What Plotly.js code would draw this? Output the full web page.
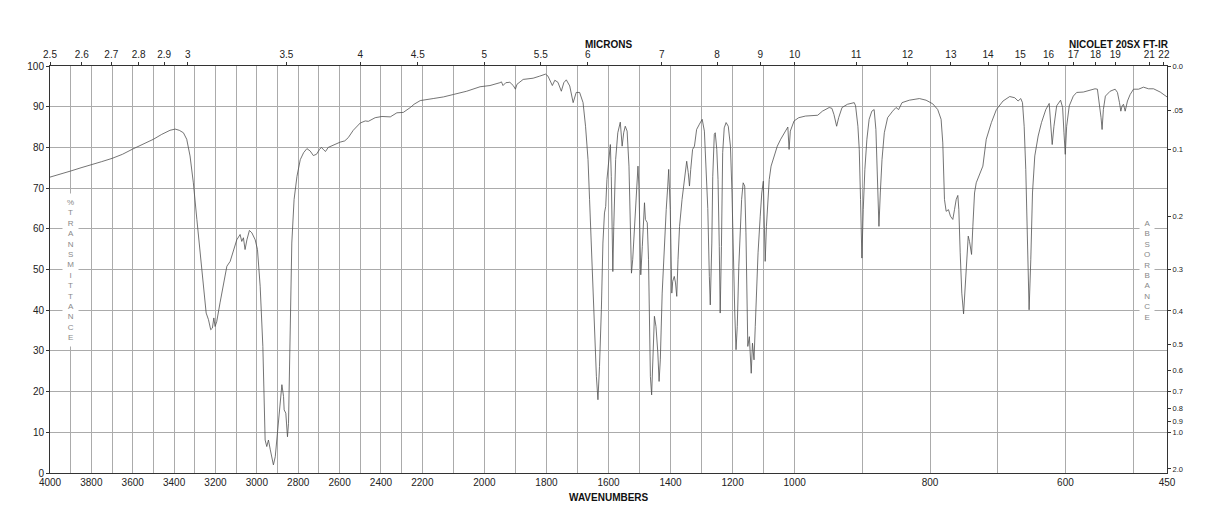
<!DOCTYPE html>
<html>
<head>
<meta charset="utf-8">
<script src="https://cdn.plot.ly/plotly-3.0.1.min.js"></script>
<style>html,body{margin:0;padding:0;background:#fff;}#chart{width:1218px;height:528px;}</style>
</head>
<body>
<div id="chart"></div>
<script>
// Wavenumbers (cm-1) and % transmittance
const wavenumbers = [4000,3950,3900,3850,3800,3750,3700,3650,3600,3550,3500,3460,3420,3395,3375,3355,3339,3323,3307,3290,3274,3258,3245,3234,3223,3215,3208,3202,3194,3178,3162,3145,3129,3113,3097,3081,3073,3065,3057,3048,3036,3024,3008,2997,2984,2971,2965,2960,2952,2944,2935,2927,2920,2911,2903,2895,2887,2879,2871,2868,2860,2852,2847,2839,2831,2820,2806,2790,2774,2758,2742,2727,2712,2697,2688,2677,2668,2655,2630,2597,2575,2558,2534,2500,2476,2461,2428,2395,2355,2323,2292,2271,2258,2240,2210,2165,2132,2100,2057,2014,1982,1950,1945,1940,1931,1918,1907,1900,1895,1875,1843,1822,1803,1795,1787,1781,1773,1763,1752,1744,1736,1725,1714,1704,1693,1682,1674,1666,1661,1655,1650,1645,1639,1634,1629,1623,1618,1613,1609,1605,1599,1594,1591,1588,1586,1583,1577,1570,1562,1556,1551,1546,1540,1534,1530,1526,1522,1516,1511,1505,1502,1499,1496,1491,1487,1484,1481,1475,1471,1468,1465,1461,1457,1452,1447,1441,1437,1433,1427,1420,1414,1409,1406,1401,1398,1396,1393,1388,1384,1380,1376,1371,1363,1355,1348,1343,1339,1335,1329,1323,1320,1316,1307,1298,1291,1286,1280,1275,1272,1267,1264,1259,1256,1251,1247,1243,1240,1236,1232,1227,1221,1214,1207,1202,1198,1193,1189,1185,1180,1176,1171,1166,1161,1157,1154,1151,1146,1143,1140,1136,1131,1127,1123,1118,1111,1106,1101,1098,1095,1091,1086,1082,1076,1066,1056,1045,1031,1022,1018,1014,1002,994,984,966,959,949,945,942,938,935,930,922,912,910,906.6,904.6,902.7,900.7,898.7,896.3,893.3,890,886,882.6,880,877.6,875.5,873.5,871,867.6,862.7,855.3,850.3,846.4,841.4,830.6,815.8,805.9,796,788.7,783.7,781.2,778.7,776.2,772.8,769.9,766.4,763.9,761.4,759,757.5,755.5,753.1,750.5,748,746,743.6,741.7,738.7,736.8,734.3,731.8,726.9,722,717,709.4,702,692.2,682.3,674.9,670,666,663.5,661,658.6,656,653.7,651.2,648.7,645.3,640.3,635.4,629,624,622,619.6,617,613,607.2,604.2,602.2,600.3,598.2,594.4,588.4,583.4,573.6,563.7,556.3,552.8,549.9,547.4,545.9,544,541,534,526.6,523.2,520.2,518.2,516.3,514.3,511.8,508.4,504.4,499.5,492.1,484.7,477.3,469.9,460,452.6,450];
const transmittance = [72.7,73.4,74.2,75.0,75.7,76.5,77.3,78.3,79.6,80.8,82.0,83.2,84.2,84.5,84.2,83.6,82.0,77.9,71.3,62.3,54.1,45.9,39.3,37.7,35.2,35.6,38.1,36.0,37.2,41.8,46.7,50.8,52.0,54.9,57.3,58.6,56.9,57.8,54.9,57.3,59.6,59.0,57.3,54.9,45.9,31.1,19.6,8.1,6.5,8.1,5.7,3.2,2.0,4.0,8.9,13.0,18.0,21.7,18.8,15.5,14.7,8.9,12.2,36.0,56.5,67.2,72.9,77.0,78.7,79.7,79.1,78.0,78.3,79.5,80.0,79.4,79.0,80.0,80.6,81.3,81.6,82.4,84.2,86.0,86.5,86.4,87.3,87.6,87.5,88.5,88.6,89.3,89.8,90.6,91.5,92.0,92.4,93.0,93.8,94.9,95.2,95.9,96.1,95.2,95.9,96.0,95.2,94.3,95.5,96.7,97.0,97.5,98.0,97.5,96.3,95.2,96.5,96.0,93.8,95.9,96.6,95.1,91.0,93.5,93.5,91.0,85.2,77.0,67.2,55.7,44.2,33.5,23.7,18.0,26.2,40.1,56.5,63.9,65.5,72.1,77.0,80.7,72.9,59.0,49.5,60.6,77.0,83.6,86.2,80.3,83.6,85.2,84.0,75.4,60.6,49.1,52.4,60.6,68.8,75.4,70.5,56.5,48.7,55.7,64.7,66.4,62.3,61.5,52.4,36.0,23.7,19.2,27.8,38.5,36.0,29.5,22.5,27.8,44.2,56.5,64.7,70.5,74.6,64.7,52.4,44.2,47.1,48.3,46.7,43.4,52.4,60.6,67.2,72.9,76.6,73.8,70.5,74.6,79.5,80.3,82.0,84.4,85.7,86.9,84.0,76.0,65.0,48.3,41.3,56.5,72.9,83.2,83.6,79.5,72.1,55.7,39.3,55.7,78.7,84.8,86.1,85.2,80.3,68.8,52.4,39.3,30.3,36.0,50.8,60.6,67.2,71.3,70.5,59.0,44.2,31.1,33.5,29.5,24.5,31.9,27.8,36.0,45.9,54.1,63.1,68.8,71.7,62.3,52.0,60.6,67.2,72.1,75.4,77.9,80.3,82.0,84.0,85.0,79.5,84.0,86.5,87.3,87.7,87.9,88.9,89.8,89.6,88.1,85.2,87.3,89.8,90.6,91.0,90.2,85.2,79.5,67.2,52.8,64.7,74.6,82.0,86.9,88.9,89.3,84.4,71.3,60.6,68.8,77.0,83.6,87.3,88.9,89.8,89.3,91.0,91.6,92.0,91.6,90.7,89.3,86.9,81.1,67.2,64.3,64.7,63.1,62.3,64.7,67.2,68.2,64.7,54.1,44.2,39.1,45.9,52.4,58.2,56.9,53.7,60.6,68.8,71.3,73.3,75.4,82.0,86.1,89.3,91.4,92.5,92.2,91.4,92.0,91.0,85.2,74.6,56.5,40.1,52.4,68.8,77.9,82.8,86.1,89.3,90.8,86.9,80.7,85.2,90.2,91.6,89.8,83.6,78.3,85.2,90.2,92.6,93.5,93.6,94.0,94.4,94.3,91.0,87.3,84.4,89.3,92.6,93.8,94.3,93.5,91.0,88.9,90.2,90.6,88.9,91.4,93.0,94.3,94.3,94.8,94.4,94.4,93.6,92.6,92.4];

// Axis tick labels
const wnGridValues = [4000,3900,3800,3700,3600,3500,3400,3300,3200,3100,3000,2900,2800,2700,2600,2500,2400,2300,2200,2100,2000,1900,1800,1700,1600,1500,1400,1300,1200,1100,1000,900,800,700,600,500,450];
const wnLabelled = [4000,3800,3600,3400,3200,3000,2800,2600,2400,2200,2000,1800,1600,1400,1200,1000,800,600,450];
const micronLabels = [2.5,2.6,2.7,2.8,2.9,3,3.5,4,4.5,5,5.5,6,7,8,9,10,11,12,13,14,15,16,17,18,19,21,22];
const absorbanceLabels = ['0.0','.05','0.1','0.2','0.3','0.4','0.5','0.6','0.7','0.8','0.9','1.0','2.0'];
const transmittanceTicks = [0,10,20,30,40,50,60,70,80,90,100];

// Chart's piecewise-linear wavenumber scale (three equal-width segments)
function u(w){
  if (w >= 2200) return (4000 - w) / 1800;
  if (w >= 1000) return 1 + (2200 - w) / 1200;
  return 2 + (1000 - w) / 550;
}

const FONT = '"Liberation Sans", Arial, Helvetica, sans-serif';
const xs = wavenumbers.map(u);

const traces = [
  {x: xs, y: transmittance, type: 'scatter', mode: 'lines',
   line: {color: '#505050', width: 0.8}, hoverinfo: 'skip', showlegend: false},
  {x: xs, y: transmittance, type: 'scatter', mode: 'lines', xaxis: 'x2', yaxis: 'y2',
   line: {color: 'rgba(0,0,0,0)', width: 0}, hoverinfo: 'skip', showlegend: false}
];

const layout = {
  width: 1218, height: 528,
  margin: {l: 50, r: 51, t: 66, b: 55},
  paper_bgcolor: '#fff', plot_bgcolor: '#fff',
  font: {family: FONT, size: 10, color: '#222'},
  showlegend: false,
  xaxis: {
    range: [0, 3], tickmode: 'array',
    tickvals: wnGridValues.map(u),
    ticktext: wnGridValues.map(v => wnLabelled.includes(v) ? String(v) : ''),
    ticks: '', showgrid: true, gridcolor: '#ababab', gridwidth: 1,
    showline: true, linecolor: '#333', linewidth: 1, zeroline: false,
    tickfont: {size: 10, color: '#222'}
  },
  xaxis2: {
    range: [0, 3], overlaying: 'x', side: 'top', tickmode: 'array',
    tickvals: micronLabels.map(m => u(10000 / m)),
    ticktext: micronLabels.map(String),
    ticks: 'outside', ticklen: 3, tickcolor: '#333',
    showgrid: false, showline: true, linecolor: '#333', linewidth: 1, zeroline: false,
    tickfont: {size: 10, color: '#222'}
  },
  yaxis: {
    range: [0, 100], tickmode: 'array', tickvals: transmittanceTicks,
    ticks: 'outside', ticklen: 3, tickcolor: '#333',
    showgrid: true, gridcolor: '#ababab', gridwidth: 1,
    showline: true, linecolor: '#333', linewidth: 1, zeroline: false,
    tickfont: {size: 10, color: '#222'}
  },
  yaxis2: {
    range: [0, 100], overlaying: 'y', side: 'right', tickmode: 'array',
    tickvals: absorbanceLabels.map(a => 100 * Math.pow(10, -parseFloat(a))),
    ticktext: absorbanceLabels,
    ticks: 'outside', ticklen: 3, tickcolor: '#333',
    showgrid: false, showline: true, linecolor: '#333', linewidth: 1, zeroline: false,
    tickfont: {size: 7.5, color: '#222'}
  },
  annotations: [
    {text: '<b>MICRONS</b>', xref: 'paper', yref: 'paper', x: 0.5003, y: 1.0533,
     xanchor: 'center', yanchor: 'middle', showarrow: false, font: {size: 10, color: '#111', family: FONT}},
    {text: '<b>NICOLET 20SX FT-IR</b>', xref: 'paper', yref: 'paper', x: 1.0036, y: 1.0533,
     xanchor: 'right', yanchor: 'middle', showarrow: false, font: {size: 10, color: '#111', family: FONT}},
    {text: '<b>WAVENUMBERS</b>', xref: 'paper', yref: 'paper', x: 0.5003, y: -0.059,
     xanchor: 'center', yanchor: 'middle', showarrow: false, font: {size: 10, color: '#111', family: FONT}},
    {text: '%<br>T<br>R<br>A<br>N<br>S<br>M<br>I<br>T<br>T<br>A<br>N<br>C<br>E', xref: 'paper', yref: 'paper',
     x: 0.0188, y: 0.4988, xanchor: 'center', yanchor: 'middle', showarrow: false,
     bgcolor: '#fff', borderpad: 4, font: {size: 8, color: '#888', family: FONT}},
    {text: 'A<br>B<br>S<br>O<br>R<br>B<br>A<br>N<br>C<br>E', xref: 'paper', yref: 'paper',
     x: 0.9824, y: 0.498, xanchor: 'center', yanchor: 'middle', showarrow: false,
     bgcolor: '#fff', borderpad: 4, font: {size: 8, color: '#888', family: FONT}}
  ]
};

Plotly.newPlot('chart', traces, layout, {staticPlot: true, displayModeBar: false});
</script>
</body>
</html>
